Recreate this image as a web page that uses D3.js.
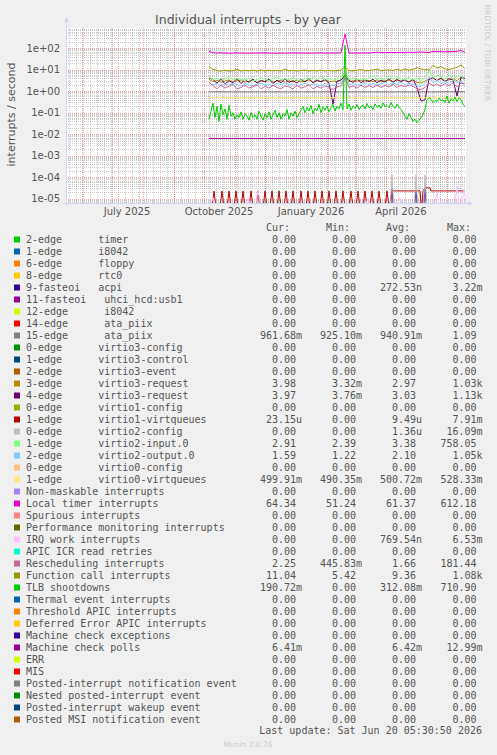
<!DOCTYPE html>
<html><head><meta charset="utf-8">
<script src="https://cdn.jsdelivr.net/npm/d3@7"></script>
<style>
body{margin:0;background:#F0F0F0;}
svg{display:block;}
text{white-space:pre;}
</style>
</head><body>
<svg id="chart" width="497" height="755"></svg>
<script>
// ---------------- DATA ----------------
const chartTitle = "Individual interrupts - by year";
const yAxisTitle = "interrupts / second";
const xDomainStart = "2025-05-16";
const xDomainEnd = "2026-06-20";
const yTickValues = [1e2, 1e1, 1e0, 1e-1, 1e-2, 1e-3, 1e-4, 1e-5];
const yTickLabels = ["1e+02","1e+01","1e+00","1e-01","1e-02","1e-03","1e-04","1e-05"];
const xTickMonths = ["2025-07-01","2025-10-01","2026-01-01","2026-04-01"];
const xTickLabels = ["July 2025","October 2025","January 2026","April 2026"];

const seriesStart = "2025-10-06";
const stepDays = 4;
const localTimer = [72,62,60,61,60,59,60,61,60,60,
 59,60,60,61,60,60,60,59,60,60,
 60,61,60,60,60,59,60,60,61,60,
 60,60,60,62,460,60,60,60,60,61,
 60,63,66,64,63,64,63,64,65,64,
 66,64,66,68,65,64,72,70,70,69,
 70,70,72,80,64.34];
const functionCall = [14,10.5,9.2,8.7,9.6,8.6,9.1,10.5,8.8,9.4,
 8.9,9.5,8.7,9.9,8.8,9.6,8.9,9.3,8.7,10.8,
 9.0,9.4,8.7,9.2,9.8,8.8,9.3,8.9,9.6,8.8,
 9.5,8.8,9.2,9.7,14,9.2,8.8,9.5,10.6,8.9,
 9.3,9.8,10.8,9.2,9.6,9.8,9.3,10.5,9.4,10.9,
 9.6,10.4,12.5,11,10.2,9.8,16,12,14,11,
 10.2,11.5,13,17,11.04];
const virtio3Request3 = [3.6,2.8,3.2,2.6,3.0,3.4,2.7,3.1,3.3,2.7,
 2.9,3.3,2.6,3.1,2.8,3.4,2.7,3.0,3.2,2.6,
 3.1,2.8,3.3,2.7,3.0,3.4,2.6,3.1,2.8,3.2,
 2.7,3.0,2.8,3.3,6,2.7,3.1,2.9,3.3,2.7,
 3.2,2.8,3.4,2.7,3.1,3.3,2.8,3.5,2.9,3.2,
 2.8,3.4,2.6,2.4,3.0,3.6,4.2,3.2,3.8,3.0,
 3.4,3.9,3.1,4.4,3.98];
const virtio3Request4 = [4.2,3.5,2.4,3.8,2.2,3.1,2.5,3.9,2.3,3.4,
 2.6,3.7,2.4,3.2,2.8,3.6,2.3,3.3,2.5,3.8,
 2.6,3.1,2.4,3.5,2.7,3.9,2.5,3.3,2.8,3.6,
 2.4,0.25,2.9,3.4,5,3.2,2.6,3.7,2.5,3.4,
 2.8,3.6,2.5,3.3,2.7,3.8,2.6,3.5,2.9,3.4,
 2.6,3.7,1.5,0.35,0.4,3.6,4.4,3.1,4.2,2.8,
 3.9,3.3,0.6,4.5,3.97];
const virtio2Input = [4.5,3.4,4.1,3.2,3.8,4.8,3.3,4.0,3.6,3.1,
 4.2,3.1,3.5,4.4,3.6,3.1,3.9,4.9,3.4,3.8,
 3.5,4.3,3.4,3.1,3.9,3.6,4.6,3.4,5.2,3.3,
 4.0,3.2,3.8,4.4,8,3.5,4.1,3.4,3.9,3.3,
 4.2,5.5,3.4,4.0,3.3,5.8,3.5,4.4,3.7,3.3,
 4.5,3.5,3.9,3.2,4.3,9.5,4.2,5.6,4.5,3.6,
 6.2,3.5,5.0,5.5,2.91];
const virtio2Output = [2.6,2.0,2.3,1.8,2.2,1.9,2.4,2.0,1.8,2.3,
 2.0,1.8,2.2,2.4,1.9,2.1,1.8,2.3,2.0,2.5,
 1.9,2.2,1.8,2.1,2.4,1.9,2.2,2.0,1.8,2.3,
 2.1,1.8,2.2,2.4,5,2.0,2.3,1.9,2.1,2.5,
 2.0,2.3,1.9,2.2,2.6,2.0,2.4,2.1,2.7,2.0,
 2.3,2.1,1.8,1.7,2.2,4.6,2.6,3.2,2.3,2.9,
 2.2,3.4,2.5,3.0,1.59];
const rescheduling = [2.6,1.8,1.3,2.0,1.4,1.7,2.1,1.3,1.5,1.9,
 1.4,1.6,2.0,1.3,1.7,1.4,1.9,1.5,1.3,1.8,
 1.6,1.3,1.9,1.4,1.6,2.0,1.3,1.7,1.4,1.8,
 1.5,1.2,1.6,1.8,4,1.5,1.8,1.4,1.9,1.5,
 1.8,1.5,2.0,1.5,1.9,1.6,2.1,1.5,1.9,1.6,
 2.0,1.7,1.3,1.2,1.5,2.4,1.8,2.2,1.7,2.3,
 1.8,2.5,1.6,2.4,2.25];

const tlbStepDays = 2;
const tlbShootdowns = [0.05,0.12,0.28,0.06,0.2,0.04,0.25,0.08,0.15,0.05,0.22,
 0.07,0.1,0.05,0.08,0.06,0.11,0.05,0.09,0.07,0.045,
 0.1,0.06,0.08,0.05,0.12,0.07,0.045,0.09,0.06,0.11,
 0.05,0.08,0.13,0.06,0.1,0.05,0.09,0.07,0.14,0.05,
 0.1,0.07,0.12,0.06,0.09,
 0.13,0.2,0.1,0.18,0.12,0.22,0.09,0.16,0.12,0.25,
 0.1,0.19,0.13,0.21,0.11,0.17,0.24,0.12,0.2,0.15,
 0.28,0.14,
 140,
 0.15,0.25,0.13,0.2,0.16,0.24,0.14,0.19,0.22,0.15,
 0.27,0.17,0.21,0.14,0.26,0.18,0.23,0.16,0.29,0.19,
 0.22,0.17,0.3,0.2,0.16,0.25,0.18,0.14,0.1,0.07,
 0.05,0.09,
 0.06,0.04,0.05,0.035,0.045,0.06,0.08,0.15,0.4,0.5,
 0.42,0.3,0.38,0.33,0.48,0.36,0.4,0.3,0.6,0.28,
 0.45,0.35,0.52,0.33,0.5,0.4,0.25,0.19];

const flatStepDays = 16;
const ataPiix15 = [0.95,0.94,0.94,0.94,0.94,0.94,0.94,0.94,0.94,0.94,0.94,0.94,0.94,0.94,0.94,0.95,0.96];
const virtio0Virtqueues = [0.51,0.5,0.5,0.5,0.5,0.5,0.5,0.5,0.5,0.5,0.5,0.5,0.5,0.5,0.5,0.5,0.5];
const machineCheckPolls = [0.0064,0.0064,0.0064,0.0064,0.0064,0.0064,0.0064,0.0064,0.0064,0.0064,0.0064,0.0064,0.0064,0.0064,0.0064,0.0064,0.0064];

// spike-type series: day offsets from seriesStart and peak values
const virtio1SpikeDays = [5,13,20,27,34,42,49,56,63,70,77,84,92,99,106,113,120,127,134,142,149,156,163,170,178];
const virtio1SpikeVals = [2.3e-5,2.3e-5,2.3e-5,2.3e-5,2.3e-5,2.3e-5,2.3e-5,2.3e-5,2.3e-5,2.3e-5,2.3e-5,2.3e-5,2.3e-5,2.3e-5,2.3e-5,2.3e-5,2.3e-5,2.3e-5,2.3e-5,2.3e-5,2.3e-5,2.3e-5,2.3e-5,2.3e-5,2.3e-5];
const virtio1TailDays = [181,183,211,212,213,214,216,217,221,222,256];
const virtio1TailVals = [0,2.3e-5,2.3e-5,0,0,2.3e-5,3.2e-5,3.2e-5,3.2e-5,2.3e-5,2.3e-5];
const irqWorkDays = [4,39,49,159,191,228,248,255];
const irqWorkVals = [1.1e-5,1.1e-5,2.5e-5,1.1e-5,1.1e-5,2e-5,3.9e-5,2.7e-5];
const virtio2ConfigDays = [183,207,216];
const virtio2ConfigVals = [1.3e-4,1.3e-4,1.3e-4];
const acpiDays = [183,207,216];
const acpiVals = [3e-5,2.5e-5,3e-5];

// legend
const legendLabels = [
 "2-edge      timer","1-edge      i8042","6-edge      floppy","8-edge      rtc0",
 "9-fasteoi   acpi","11-fasteoi   uhci_hcd:usb1","12-edge      i8042","14-edge      ata_piix",
 "15-edge      ata_piix","0-edge      virtio3-config","1-edge      virtio3-control","2-edge      virtio3-event",
 "3-edge      virtio3-request","4-edge      virtio3-request","0-edge      virtio1-config","1-edge      virtio1-virtqueues",
 "0-edge      virtio2-config","1-edge      virtio2-input.0","2-edge      virtio2-output.0","0-edge      virtio0-config",
 "1-edge      virtio0-virtqueues","Non-maskable interrupts","Local timer interrupts","Spurious interrupts",
 "Performance monitoring interrupts","IRQ work interrupts","APIC ICR read retries","Rescheduling interrupts",
 "Function call interrupts","TLB shootdowns","Thermal event interrupts","Threshold APIC interrupts",
 "Deferred Error APIC interrupts","Machine check exceptions","Machine check polls","ERR",
 "MIS","Posted-interrupt notification event","Nested posted-interrupt event","Posted-interrupt wakeup event",
 "Posted MSI notification event"];
const legendColors = [
 "#00CC00","#0066B3","#FF8000","#FFCC00","#330099","#990099","#CCFF00","#FF0000",
 "#808080","#008F00","#00487D","#B35A00","#B38F00","#6B006B","#8FB300","#B30000",
 "#BEBEBE","#80FF80","#80C9FF","#FFC080","#FFE680","#AA80FF","#EE00CC","#FF8080",
 "#666600","#FFBFFF","#00FFCC","#CC6699","#999900","#00CC00","#0066B3","#FF8000",
 "#FFCC00","#330099","#990099","#CCFF00","#FF0000","#808080","#008F00","#00487D",
 "#B35A00"];
const Z = "0.00";
const curVals = [Z,Z,Z,Z,Z,Z,Z,Z,"961.68m",Z,Z,Z,"3.98","3.97",Z,"23.15u",Z,"2.91","1.59",Z,"499.91m",Z,"64.34",Z,Z,Z,Z,"2.25","11.04","190.72m",Z,Z,Z,Z,"6.41m",Z,Z,Z,Z,Z,Z];
const minVals = [Z,Z,Z,Z,Z,Z,Z,Z,"925.10m",Z,Z,Z,"3.32m","3.76m",Z,Z,Z,"2.39","1.22",Z,"490.35m",Z,"51.24",Z,Z,Z,Z,"445.83m","5.42",Z,Z,Z,Z,Z,Z,Z,Z,Z,Z,Z,Z];
const avgVals = [Z,Z,Z,Z,"272.53n",Z,Z,Z,"940.91m",Z,Z,Z,"2.97","3.03",Z,"9.49u","1.36u","3.38","2.10",Z,"500.72m",Z,"61.37",Z,Z,"769.54n",Z,"1.66","9.36","312.08m",Z,Z,Z,Z,"6.42m",Z,Z,Z,Z,Z,Z];
const maxVals = [Z,Z,Z,Z,"3.22m",Z,Z,Z,"1.09",Z,Z,Z,"1.03k","1.13k",Z,"7.91m","16.09m","758.05","1.05k",Z,"528.33m",Z,"612.18",Z,Z,"6.53m",Z,"181.44","1.08k","710.90",Z,Z,Z,Z,"12.99m",Z,Z,Z,Z,Z,Z];
const columnHeaders = ["Cur:","Min:","Avg:","Max:"];
const lastUpdate = "Last update: Sat Jun 20 05:30:50 2026";
const muninVersion = "Munin 2.0.76";
const rrdCredit = "RRDTOOL / TOBI OETIKER";

// ---------------- DRAW ----------------
const svg = d3.select("#chart");
const P = {left: 66, right: 466, top: 28, bottom: 203};
const textColor = "#555";
const axisColor = "#CFD6F8";
const sans = "'DejaVu Sans', sans-serif";
const mono = "'DejaVu Sans Mono', monospace";

const parse = s => { const [y,m,d] = s.split("-").map(Number); return new Date(Date.UTC(y, m-1, d)); };
const addDays = (date, n) => new Date(date.getTime() + n * 86400000);

const x = d3.scaleUtc().domain([parse(xDomainStart), parse(xDomainEnd)]).range([P.left, P.right]);
const y = d3.scaleLog().domain([6.3e-6, 880]).range([P.bottom, P.top]);

svg.append("rect").attr("x",0).attr("y",0).attr("width",497).attr("height",755).attr("fill","#F0F0F0");
svg.append("rect").attr("x",P.left).attr("y",P.top).attr("width",P.right-P.left).attr("height",P.bottom-P.top).attr("fill","#FFFFFF");

const grid = svg.append("g");
const minorCol = "rgba(143,143,143,0.45)";
const majorCol = "rgba(222,79,79,0.5)";
const [lo, hi] = y.domain();
const minorY = [];
for (let e = Math.floor(Math.log10(lo)); e <= Math.ceil(Math.log10(hi)); e++) {
  for (let k = 2; k <= 9; k++) { const v = k * Math.pow(10, e); if (v >= lo && v <= hi) minorY.push(v); }
}
grid.selectAll(".hmin").data(minorY).enter().append("line")
  .attr("x1",P.left).attr("x2",P.right)
  .attr("y1",d=>Math.round(y(d))+0.5).attr("y2",d=>Math.round(y(d))+0.5)
  .attr("stroke",minorCol).attr("stroke-dasharray","1,1");
const weeks = d3.utcMonday.range(x.domain()[0], x.domain()[1]);
grid.selectAll(".vmin").data(weeks).enter().append("line")
  .attr("x1",d=>Math.round(x(d))+0.5).attr("x2",d=>Math.round(x(d))+0.5)
  .attr("y1",P.top).attr("y2",P.bottom)
  .attr("stroke",minorCol).attr("stroke-dasharray","1,1");
grid.selectAll(".hmaj").data(yTickValues).enter().append("line")
  .attr("x1",P.left).attr("x2",P.right)
  .attr("y1",d=>Math.round(y(d))+0.5).attr("y2",d=>Math.round(y(d))+0.5)
  .attr("stroke",majorCol).attr("stroke-dasharray","1,1");
const months = d3.utcMonth.range(x.domain()[0], x.domain()[1]);
grid.selectAll(".vmaj").data(months).enter().append("line")
  .attr("x1",d=>Math.round(x(d))+0.5).attr("x2",d=>Math.round(x(d))+0.5)
  .attr("y1",P.top).attr("y2",P.bottom)
  .attr("stroke",majorCol).attr("stroke-dasharray","1,1");

svg.append("clipPath").attr("id","plotclip").append("rect")
  .attr("x",P.left).attr("y",P.top-10).attr("width",P.right-P.left+1).attr("height",P.bottom-P.top+10);
const dataG = svg.append("g").attr("clip-path","url(#plotclip)");

const start = parse(seriesStart);
const yv = v => v > 0 ? y(Math.max(v, lo)) : P.bottom + 0.5;
const line = d3.line().x(d => x(d.date)).y(d => yv(d.v));

function regular(vals, step) { return vals.map((v,i) => ({date: addDays(start, i*step), v})); }
function pairs(days, vals) { return days.map((d,i) => ({date: addDays(start, d), v: vals[i]})); }
function spikes(days, vals, half) {
  return days.map((d,i) => [{date: addDays(start, d-half), v:0},{date: addDays(start, d), v: vals[i]},{date: addDays(start, d+half), v:0}]);
}

const drawList = [
  {color: legendColors[4], paths: spikes(acpiDays, acpiVals, 1.2)},
  {color: legendColors[8], paths: [regular(ataPiix15, flatStepDays)]},
  {color: legendColors[12], paths: [regular(virtio3Request3, stepDays)]},
  {color: legendColors[13], paths: [regular(virtio3Request4, stepDays)]},
  {color: legendColors[15], paths: spikes(virtio1SpikeDays, virtio1SpikeVals, 1.5).concat([pairs(virtio1TailDays, virtio1TailVals)])},
  {color: legendColors[16], paths: spikes(virtio2ConfigDays, virtio2ConfigVals, 1.5)},
  {color: legendColors[17], paths: [regular(virtio2Input, stepDays)]},
  {color: legendColors[18], paths: [regular(virtio2Output, stepDays)]},
  {color: legendColors[20], paths: [regular(virtio0Virtqueues, flatStepDays)]},
  {color: legendColors[22], paths: [regular(localTimer, stepDays)]},
  {color: legendColors[25], paths: spikes(irqWorkDays, irqWorkVals, 2)},
  {color: legendColors[27], paths: [regular(rescheduling, stepDays)]},
  {color: legendColors[28], paths: [regular(functionCall, stepDays)]},
  {color: legendColors[29], paths: [regular(tlbShootdowns, tlbStepDays)]},
  {color: legendColors[34], paths: [regular(machineCheckPolls, flatStepDays)]}
];
drawList.forEach(s => {
  s.paths.forEach(p => {
    dataG.append("path").attr("d", line(p)).attr("fill","none").attr("stroke", s.color).attr("stroke-width",1);
  });
});

// axes
svg.append("line").attr("x1",P.left+0.5).attr("x2",P.left+0.5).attr("y1",P.bottom+3).attr("y2",P.top-6).attr("stroke",axisColor);
svg.append("path").attr("d",`M${P.left-2},${P.top-6} L${P.left+3},${P.top-6} L${P.left+0.5},${P.top-11} Z`).attr("fill",axisColor);
svg.append("line").attr("x1",P.left-3).attr("x2",P.right+3).attr("y1",P.bottom+0.5).attr("y2",P.bottom+0.5).attr("stroke",axisColor);
svg.append("path").attr("d",`M${P.right+2},${P.bottom-2} L${P.right+2},${P.bottom+3} L${P.right+7},${P.bottom+0.5} Z`).attr("fill",axisColor);

svg.selectAll(".ylab").data(yTickValues).enter().append("text")
  .attr("x",60).attr("y",d=>y(d)+3.5).attr("text-anchor","end")
  .attr("font-family",sans).attr("font-size",10).attr("fill",textColor)
  .text((d,i)=>yTickLabels[i]);
svg.selectAll(".xlab").data(xTickMonths).enter().append("text")
  .attr("x",d=>x(addDays(parse(d),15))).attr("y",215).attr("text-anchor","middle")
  .attr("font-family",sans).attr("font-size",10).attr("fill",textColor)
  .text((d,i)=>xTickLabels[i]);

svg.append("text").attr("x",248).attr("y",23.5).attr("text-anchor","middle")
  .attr("font-family",sans).attr("font-size",12.5).attr("fill",textColor).text(chartTitle);
svg.append("text").attr("transform","translate(15,114.5) rotate(-90)").attr("text-anchor","middle")
  .attr("font-family",sans).attr("font-size",11).attr("fill",textColor).text(yAxisTitle);
svg.append("text").attr("transform","translate(485,53) rotate(90)").attr("text-anchor","middle")
  .attr("font-family",sans).attr("font-size",7.5).attr("fill","#CCCCCC").text(rrdCredit);

// legend
const colX = [296, 356, 416, 476.5];
const headerX = [290, 350, 410, 471];
const hdr = svg.append("g").attr("font-family",mono).attr("font-size",10).attr("fill",textColor);
columnHeaders.forEach((h,i)=> hdr.append("text").attr("x",headerX[i]).attr("y",231).attr("text-anchor","end").text(h));

const leg = svg.append("g").attr("font-family",mono).attr("font-size",10).attr("fill",textColor);
const cols = [curVals, minVals, avgVals, maxVals];
legendLabels.forEach((lab, i) => {
  const by = 243 + 12 * i;
  leg.append("rect").attr("x",14).attr("y",by-6.5).attr("width",6).attr("height",6).attr("fill",legendColors[i]);
  leg.append("text").attr("x",26).attr("y",by).attr("xml:space","preserve").text(lab);
  cols.forEach((arr, c) => {
    const m = arr[i].match(/^([-\d.]+)([a-zA-Z]?)$/);
    leg.append("text").attr("x",colX[c]).attr("y",by).attr("text-anchor","end").text(m[1]);
    if (m[2]) leg.append("text").attr("x",colX[c]).attr("y",by).text(m[2]);
  });
});
svg.append("text").attr("x",482).attr("y",734).attr("text-anchor","end")
  .attr("font-family",mono).attr("font-size",10).attr("fill",textColor).text(lastUpdate);
svg.append("text").attr("x",248).attr("y",746.5).attr("text-anchor","middle")
  .attr("font-family",sans).attr("font-size",7.5).attr("fill","#CCCCCC").text(muninVersion);
</script>
</body></html>
